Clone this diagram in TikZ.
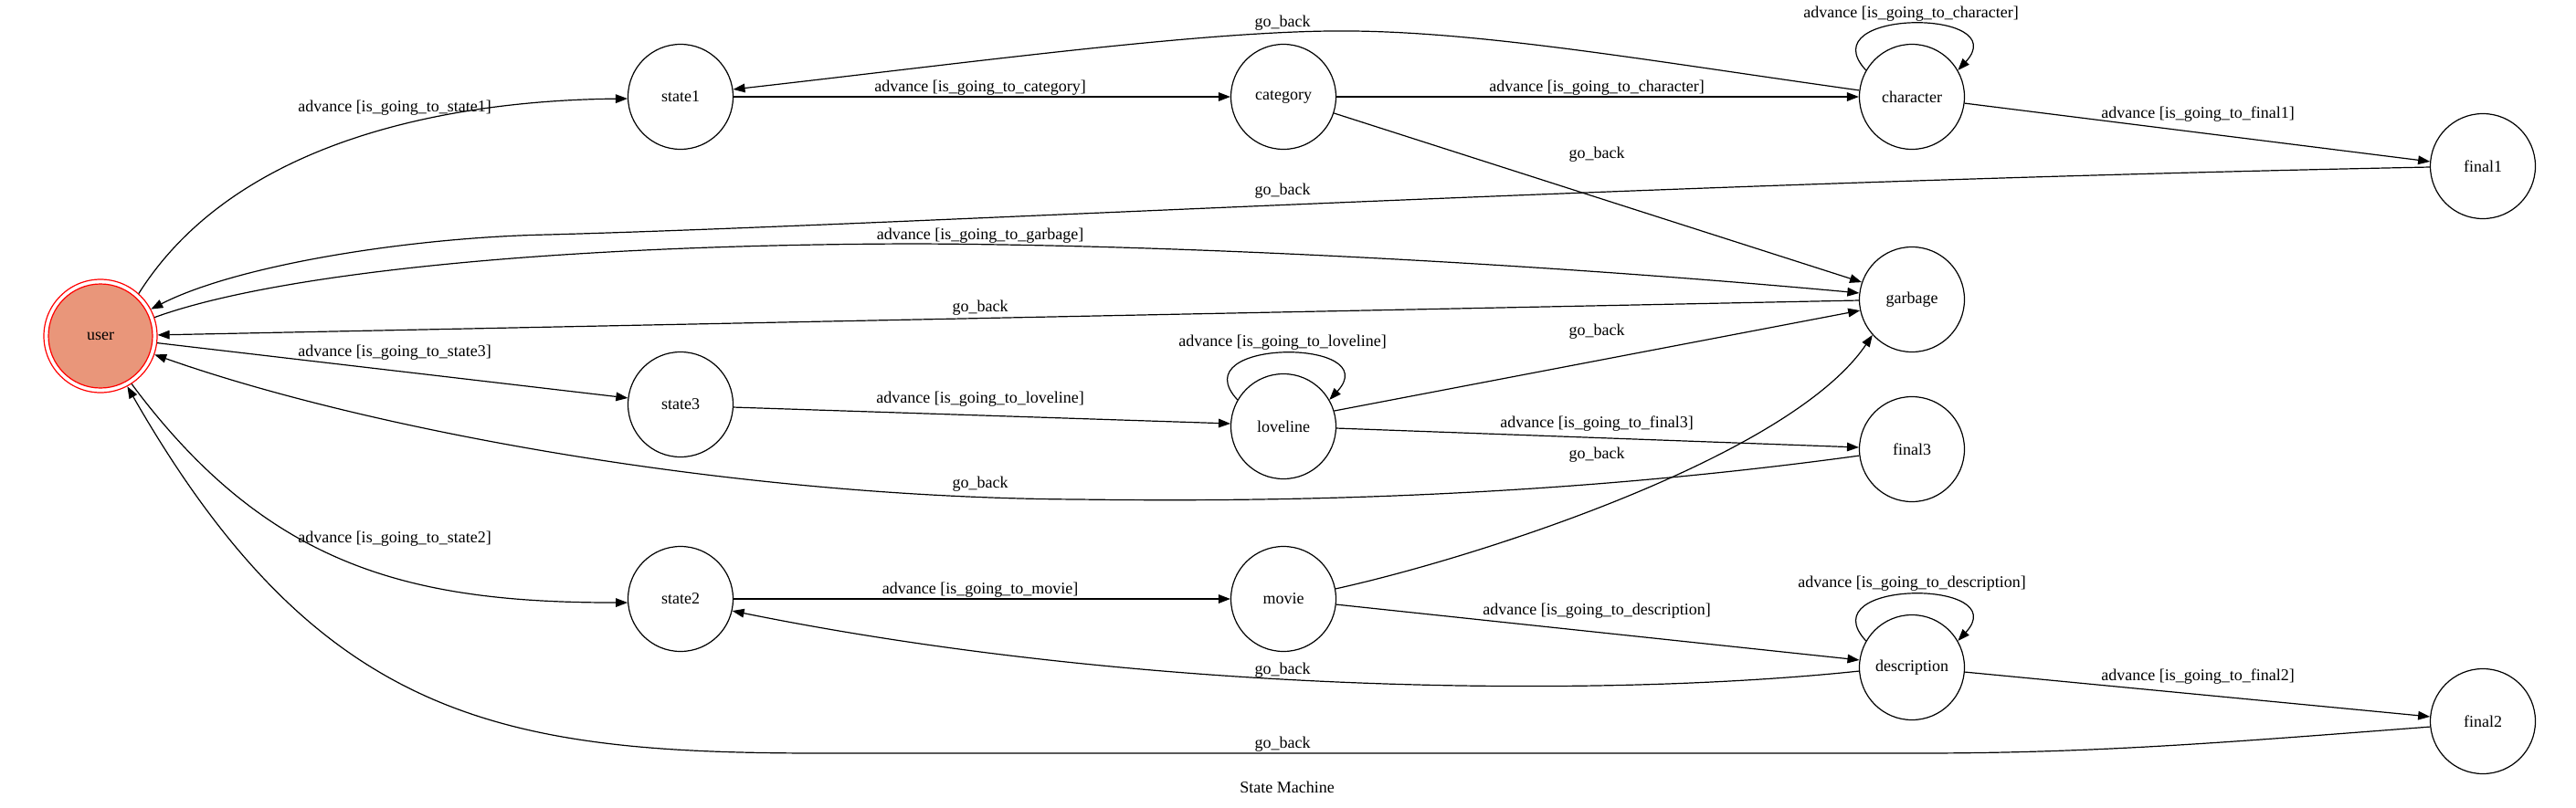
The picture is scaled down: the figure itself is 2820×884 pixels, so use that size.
\documentclass[tikz,border=0pt]{standalone}
\usepackage{fontspec}
\setmainfont{Liberation Serif}
\usetikzlibrary{arrows.meta}
\definecolor{usrfill}{RGB}{233,150,122}
\begin{document}
\begin{tikzpicture}[x=0.5pt,y=-0.5pt,
  st/.style={circle,draw,line width=0.6pt,minimum size=57.5pt,inner sep=0pt,font=\fontsize{9}{10}\selectfont},
  edge/.style={line width=0.6pt,-{Triangle[length=6.5pt,width=4.8pt]}},
  lbl/.style={inner sep=0pt,font=\fontsize{9}{10}\selectfont}]
\path[use as bounding box] (0,0) rectangle (2820,884);

% nodes
\node[circle,draw=red,line width=0.6pt,minimum size=62pt,inner sep=0pt] (U) at (110,368) {};
\node[circle,draw=red,fill=usrfill,line width=0.6pt,minimum size=57pt,inner sep=0pt,font=\fontsize{9}{10}\selectfont] (Ui) at (U) {user};
\node[st] (S1) at (745,106) {state1};
\node[st] (C)  at (1405,106) {category};
\node[st] (CH) at (2093,106) {character};
\node[st] (F1) at (2718,182) {final1};
\node[st] (G)  at (2093,328) {garbage};
\node[st] (S3) at (745,443) {state3};
\node[st] (L)  at (1405,467) {loveline};
\node[st] (F3) at (2093,492) {final3};
\node[st] (S2) at (745,656) {state2};
\node[st] (M)  at (1405,656) {movie};
\node[st] (D)  at (2093,731) {description};
\node[st] (F2) at (2718,790) {final2};

% edges
\draw[edge] (U.48) .. controls (260,150) and (500,110) .. (S1.182);
\draw[edge] (S1.east) -- (C.west);
\draw[edge] (C.east) -- (CH.west);
\draw[edge] (CH.173) .. controls (1800,66) and (1610,32) .. (1455,34) .. controls (1300,36) and (1050,70) .. (S1.8);
\draw[edge] (C.-18) -- (G.161);
\draw[edge] (CH.150) .. controls +(-63,-68) and +(63,-68) .. (CH.30);
\draw[edge] (CH.-7) -- (F1.175);
\draw[edge] (F1.181) .. controls (1800,200) and (1000,246) .. (600,257) .. controls (450,260) and (260,290) .. (U.28);
\draw[edge] (U.19) .. controls (300,300) and (600,268) .. (1000,267) .. controls (1300,268) and (1700,290) .. (G.173);
\draw[edge] (G.181) -- (U.1);
\draw[edge] (U.-7) -- (S3.173);
\draw[edge] (S3.-3) -- (L.177);
\draw[edge] (L.150) .. controls +(-63,-68) and +(63,-68) .. (L.30);
\draw[edge] (L.17) -- (G.192);
\draw[edge] (L.-2) -- (F3.178);
\draw[edge] (F3.187) .. controls (1700,545) and (1400,550) .. (1181,547) .. controls (800,545) and (400,470) .. (U.-19);
\draw[edge] (M.11) .. controls (1620,610) and (1960,500) .. (G.222);
\draw[edge] (M.-6) -- (D.172);
\draw[edge] (D.150) .. controls +(-63,-68) and +(63,-68) .. (D.30);
\draw[edge] (D.-5) -- (F2.175);
\draw[edge] (D.184) .. controls (1750,765) and (1250,760) .. (S2.-13);
\draw[edge] (F2.186) .. controls (2450,812) and (2300,825) .. (2100,825) -- (900,825) .. controls (550,825) and (350,791) .. (U.-62);
\draw[edge] (U.-57) .. controls (294,622) and (450,660) .. (S2.184);
\draw[edge] (S2.east) -- (M.west);

% labels
\node[lbl] (l1)  at (432,118)  {advance [is\_going\_to\_state1]};
\node[lbl] (l2)  at (1073,96)  {advance [is\_going\_to\_category]};
\node[lbl] (l3)  at (1748,96)  {advance [is\_going\_to\_character]};
\node[lbl] (l4)  at (1404,25)  {go\_back};
\node[lbl] (l5)  at (2092,15)  {advance [is\_going\_to\_character]};
\node[lbl] (l6)  at (2406,125) {advance [is\_going\_to\_final1]};
\node[lbl] (l7)  at (1748,169) {go\_back};
\node[lbl] (l8)  at (1404,209) {go\_back};
\node[lbl] (l9)  at (1073,258) {advance [is\_going\_to\_garbage]};
\node[lbl] (l10) at (1073,337) {go\_back};
\node[lbl] (l11) at (432,386)  {advance [is\_going\_to\_state3]};
\node[lbl] (l12) at (1404,375) {advance [is\_going\_to\_loveline]};
\node[lbl] (l13) at (1748,363) {go\_back};
\node[lbl] (l14) at (1073,437) {advance [is\_going\_to\_loveline]};
\node[lbl] (l15) at (1748,464) {advance [is\_going\_to\_final3]};
\node[lbl] (l16) at (1748,498) {go\_back};
\node[lbl] (l17) at (1073,530) {go\_back};
\node[lbl] (l18) at (432,590)  {advance [is\_going\_to\_state2]};
\node[lbl] (l19) at (1073,646) {advance [is\_going\_to\_movie]};
\node[lbl] (l20) at (1748,669) {advance [is\_going\_to\_description]};
\node[lbl] (l21) at (2093,639) {advance [is\_going\_to\_description]};
\node[lbl] (l22) at (1404,734) {go\_back};
\node[lbl] (l23) at (2406,741) {advance [is\_going\_to\_final2]};
\node[lbl] (l24) at (1404,815) {go\_back};
\node[lbl] (l25) at (1409,862) {State Machine};
\end{tikzpicture}
\end{document}
